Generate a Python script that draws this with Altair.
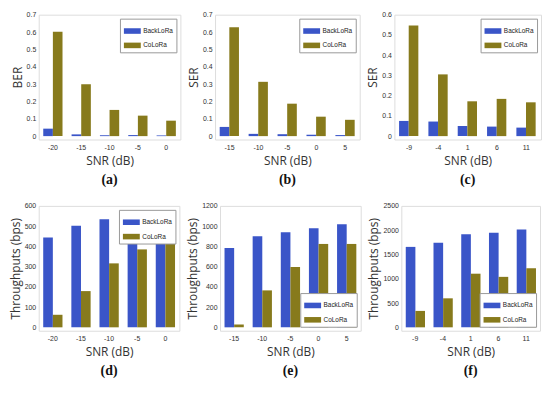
import altair as alt
import pandas as pd

series = ["BackLoRa", "CoLoRa"]
colors = ["#3a55c8", "#877a1c"]

snr_a = ["-20", "-15", "-10", "-5", "0"]
ber_back = [0.043, 0.010, 0.005, 0.006, 0.004]
ber_co = [0.602, 0.299, 0.151, 0.118, 0.089]

snr_b = ["-15", "-10", "-5", "0", "5"]
ser_b_back = [0.053, 0.013, 0.011, 0.008, 0.006]
ser_b_co = [0.628, 0.313, 0.187, 0.112, 0.094]

snr_c = ["-9", "-4", "1", "6", "11"]
ser_c_back = [0.075, 0.072, 0.050, 0.047, 0.042]
ser_c_co = [0.547, 0.305, 0.172, 0.184, 0.167]

snr_d = ["-20", "-15", "-10", "-5", "0"]
thr_d_back = [444, 502, 534, 545, 550]
thr_d_co = [62, 179, 316, 385, 419]

snr_e = ["-15", "-10", "-5", "0", "5"]
thr_e_back = [784, 900, 939, 979, 1018]
thr_e_co = [28, 365, 596, 824, 824]

snr_f = ["-9", "-4", "1", "6", "11"]
thr_f_back = [1656, 1740, 1916, 1948, 2013]
thr_f_co = [338, 597, 1104, 1039, 1214]

TXT = "#333333"


def panel(cats, back, co, ytitle, ymax, ystep, caption, width, height, lorient, loffset, fmt):
    df = pd.DataFrame({
        "snr": cats + cats,
        "series": [series[0]] * len(cats) + [series[1]] * len(cats),
        "value": back + co,
    })
    nt = int(round(ymax / ystep))
    ticks = [round(i * ystep, 4) for i in range(nt + 1)]
    return alt.Chart(df).mark_bar().encode(
        x=alt.X("snr:N", sort=cats,
                scale=alt.Scale(paddingInner=0.32, paddingOuter=0.16),
                axis=alt.Axis(title="SNR (dB)", labelAngle=0, labelFontSize=7,
                              labelColor=TXT, labelPadding=4, titlePadding=5,
                              titleFontSize=12, titleFont="Open Sans",
                              titleFontWeight="normal", titleColor=TXT,
                              domain=False, ticks=False)),
        xOffset=alt.XOffset("series:N", sort=series, scale=alt.Scale(paddingInner=0)),
        y=alt.Y("value:Q",
                scale=alt.Scale(domain=[-0.028 * ymax, ymax], nice=False, zero=False),
                axis=alt.Axis(title=ytitle, values=ticks, grid=False,
                              labelExpr="datum.value == 0 ? '0' : format(datum.value, '" + fmt + "')",
                              labelFontSize=7, labelColor=TXT, labelPadding=3,
                              titleFontSize=12, titleFont="Open Sans",
                              titleFontWeight="normal", titleColor=TXT,
                              titlePadding=2, domain=False, ticks=False)),
        y2=alt.datum(0),
        color=alt.Color("series:N",
                        scale=alt.Scale(domain=series, range=colors),
                        legend=alt.Legend(title=None, orient=lorient, offset=loffset,
                                          fillColor="white", strokeColor="#999999",
                                          padding=3.5, labelFontSize=6.5, labelColor="#222222",
                                          symbolType="M-1,-0.33H1V0.33H-1Z",
                                          symbolSize=290, symbolStrokeWidth=0,
                                          symbolOpacity=1, rowPadding=1.5,
                                          labelOffset=2, cornerRadius=0)),
    ).properties(
        width=width, height=height,
        title=alt.TitleParams(caption, orient="bottom", font="Liberation Serif",
                              fontSize=14, fontWeight="bold", color="#111111", offset=7),
    )


H = 126
a = panel(snr_a, ber_back, ber_co, "BER", 0.7, 0.1, "(a)", 143, H, "top-right", 4, ".1f")
b = panel(snr_b, ser_b_back, ser_b_co, "SER", 0.7, 0.1, "(b)", 146, H, "top-right", 4, ".1f")
c = panel(snr_c, ser_c_back, ser_c_co, "SER", 0.6, 0.1, "(c)", 148, H, "top-right", 4, ".1f")
d = panel(snr_d, thr_d_back, thr_d_co, "Throughputs (bps)", 600, 100, "(d)", 142, H, "top-right", 4, "d")
e = panel(snr_e, thr_e_back, thr_e_co, "Throughputs (bps)", 1200, 200, "(e)", 142, H, "bottom-right", 4, "d")
f = panel(snr_f, thr_f_back, thr_f_co, "Throughputs (bps)", 2500, 500, "(f)", 140, H, "bottom-right", 4, "d")

top = alt.hconcat(a, b, c, spacing=5).resolve_scale(color="independent").resolve_legend(color="independent")
bottom = alt.hconcat(d, e, f, spacing=5).resolve_scale(color="independent").resolve_legend(color="independent")

chart = alt.vconcat(top, bottom, spacing=13).resolve_scale(color="independent").resolve_legend(
    color="independent"
).properties(padding=0).configure_view(
    stroke="#9a9a9a", strokeWidth=1
).configure(background="white")

chart.save("out.html", embed_options={"renderer": "svg", "actions": False})
